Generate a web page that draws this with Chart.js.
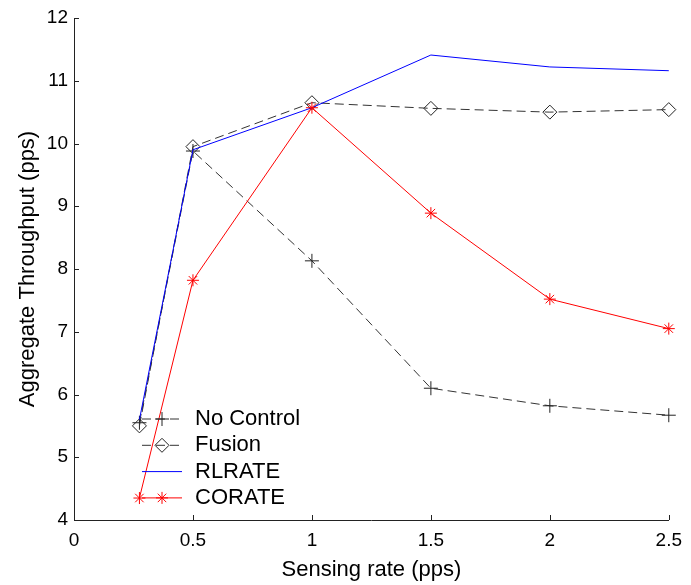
<!DOCTYPE html>
<html lang="en">
<head>
    <meta charset="UTF-8">
    <title>Aggregate Throughput</title>
    <script src="https://cdn.jsdelivr.net/npm/chart.js@4.4.1/dist/chart.umd.min.js"></script>
    <style>
        body { margin: 0; background: #fff; }
        #wrap { width: 691px; height: 585px; }
    </style>
</head>
<body>
    <div id="wrap"><canvas id="tputChart" width="691" height="585"></canvas></div>
    <script>
        // values
        const sensingRate = [0.275, 0.5, 1, 1.5, 2, 2.5];
        const noControl = [5.55, 9.88, 8.13, 6.1, 5.82, 5.67];
        const fusion = [5.5, 9.95, 10.65, 10.56, 10.5, 10.54];
        const rlrate = [5.6, 9.9, 10.57, 11.41, 11.22, 11.16];
        const corate = [4.35, 7.82, 10.57, 8.89, 7.52, 7.05];
        const seriesNames = ["No Control", "Fusion", "RLRATE", "CORATE"];

        const FONT = "'Liberation Sans', Arial, sans-serif";
        const AXIS = "#222";

        function pts(ys) {
            return sensingRate.map((x, i) => ({ x: x, y: ys[i] }));
        }

        // MATLAB-style inward tick marks
        const inwardTicks = {
            id: "inwardTicks",
            afterDraw(chart) {
                const ctx = chart.ctx;
                const xs = chart.scales.x, ys = chart.scales.y;
                const a = chart.chartArea;
                ctx.save();
                ctx.strokeStyle = AXIS;
                ctx.lineWidth = 1;
                ctx.beginPath();
                xs.ticks.forEach(t => {
                    const px = Math.round(xs.getPixelForValue(t.value)) + 0.5;
                    ctx.moveTo(px, a.bottom);
                    ctx.lineTo(px, a.bottom - 5);
                });
                ys.ticks.forEach(t => {
                    const py = Math.round(ys.getPixelForValue(t.value)) + 0.5;
                    ctx.moveTo(a.left, py);
                    ctx.lineTo(a.left + 5, py);
                });
                ctx.stroke();
                ctx.restore();
            }
        };

        // legend inside the axes, lower left, no box
        const insideLegend = {
            id: "insideLegend",
            afterDatasetsDraw(chart) {
                const ctx = chart.ctx;
                ctx.save();
                chart.data.datasets.forEach((ds, i) => {
                    const y = 419 + i * 26.3;
                    ctx.strokeStyle = ds.borderColor;
                    ctx.lineWidth = 1;
                    ctx.setLineDash(ds.borderDash || []);
                    ctx.beginPath();
                    ctx.moveTo(142, y);
                    ctx.lineTo(182, y);
                    ctx.stroke();
                    ctx.setLineDash([]);
                    if (ds.pointRadius > 0) {
                        ctx.fillStyle = ds.pointBackgroundColor;
                        ctx.strokeStyle = ds.pointBorderColor;
                        Chart.helpers.drawPoint(ctx, {
                            pointStyle: ds.pointStyle,
                            radius: ds.pointRadius,
                            borderWidth: 1,
                            rotation: 0
                        }, 162, y);
                    }
                    ctx.fillStyle = "#000";
                    ctx.font = "22px " + FONT;
                    ctx.textBaseline = "middle";
                    ctx.textAlign = "left";
                    ctx.fillText(ds.label, 195, y);
                });
                ctx.restore();
            }
        };

        let ctx = document.getElementById("tputChart").getContext("2d");
        let tputChart = new Chart(ctx, {
            type: "line",
            data: {
                datasets: [
                    {
                        label: seriesNames[0],
                        data: pts(noControl),
                        borderColor: "#333",
                        borderWidth: 1,
                        borderDash: [9, 5],
                        pointStyle: "cross",
                        pointRadius: 7,
                        pointBorderColor: "#222",
                        pointBackgroundColor: "#fff",
                        pointBorderWidth: 1,
                        order: 4
                    },
                    {
                        label: seriesNames[1],
                        data: pts(fusion),
                        borderColor: "#333",
                        borderWidth: 1,
                        borderDash: [9, 5],
                        pointStyle: "rectRot",
                        pointRadius: 7,
                        pointBorderColor: "#222",
                        pointBackgroundColor: "rgba(255,255,255,0)",
                        pointBorderWidth: 1,
                        order: 3
                    },
                    {
                        label: seriesNames[2],
                        data: pts(rlrate),
                        borderColor: "#0000ff",
                        borderWidth: 1,
                        pointRadius: 0,
                        pointBackgroundColor: "#0000ff",
                        pointBorderColor: "#0000ff",
                        order: 2
                    },
                    {
                        label: seriesNames[3],
                        data: pts(corate),
                        borderColor: "#ff0000",
                        borderWidth: 1,
                        pointStyle: "star",
                        pointRadius: 6,
                        pointBorderColor: "#ff0000",
                        pointBackgroundColor: "#ff0000",
                        pointBorderWidth: 1,
                        order: 1
                    }
                ]
            },
            options: {
                responsive: false,
                animation: false,
                tension: 0,
                clip: false,
                layout: {
                    padding: { left: 0, right: 19, top: 18, bottom: 0 }
                },
                plugins: {
                    legend: { display: false },
                    tooltip: { enabled: false }
                },
                scales: {
                    x: {
                        type: "linear",
                        min: 0,
                        max: 2.5,
                        afterFit: (scale) => { scale.height = 65; },
                        grid: { display: false, drawTicks: false },
                        border: { display: true, color: AXIS, width: 1 },
                        ticks: {
                            stepSize: 0.5,
                            padding: 9,
                            color: "#000",
                            font: { family: FONT, size: 19 },
                            callback: (v) => String(parseFloat(Number(v).toFixed(2)))
                        },
                        title: {
                            display: true,
                            text: "Sensing rate (pps)",
                            color: "#000",
                            font: { family: FONT, size: 22 },
                            padding: { top: 0, bottom: 2 }
                        }
                    },
                    y: {
                        type: "linear",
                        min: 4,
                        max: 12,
                        afterFit: (scale) => { scale.width = 74; },
                        grid: { display: false, drawTicks: false },
                        border: { display: true, color: AXIS, width: 1 },
                        ticks: {
                            stepSize: 1,
                            padding: 6,
                            color: "#000",
                            font: { family: FONT, size: 19 }
                        },
                        title: {
                            display: true,
                            text: "Aggregate Throughput (pps)",
                            color: "#000",
                            font: { family: FONT, size: 22 },
                            padding: { top: 15, bottom: 0 }
                        }
                    }
                }
            },
            plugins: [inwardTicks, insideLegend]
        });
    </script>
</body>
</html>
